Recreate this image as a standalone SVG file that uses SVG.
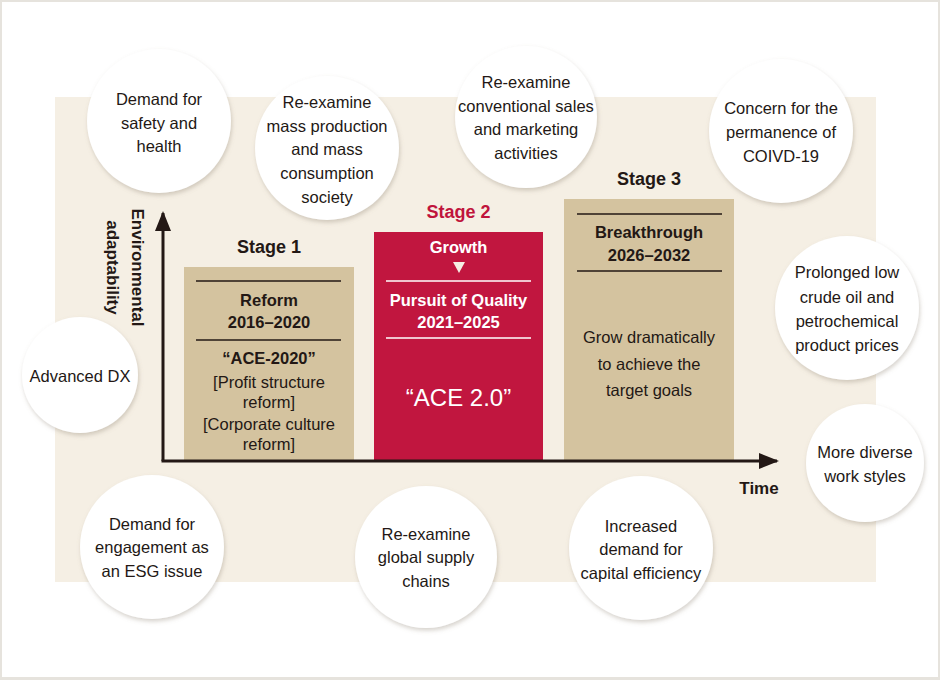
<svg xmlns="http://www.w3.org/2000/svg" width="940" height="680" viewBox="0 0 940 680">
<defs>
<filter id="sh" x="-20%" y="-20%" width="140%" height="140%">
<feDropShadow dx="1" dy="2.5" stdDeviation="2.2" flood-color="#8a7f70" flood-opacity="0.35"/>
</filter>
<marker id="ah" viewBox="0 0 20 16" refX="18" refY="8" markerWidth="20" markerHeight="16" markerUnits="userSpaceOnUse" orient="auto">
<path d="M0,0 L20,8 L0,16 Z" fill="#231815"/>
</marker>
</defs>
<style>
.c{fill:#ffffff;filter:url(#sh)}
.t{font-family:"Liberation Sans",Arial,sans-serif;font-size:16.5px;fill:#231815;text-anchor:middle}
.b{font-family:"Liberation Sans",Arial,sans-serif;font-size:16.5px;font-weight:bold;fill:#231815;text-anchor:middle}
.h{font-family:"Liberation Sans",Arial,sans-serif;font-size:18px;font-weight:bold;fill:#231815;text-anchor:middle}
.w{fill:#ffffff}
.dl{stroke:#231815;stroke-width:1.5}
.wl{stroke:#ffffff;stroke-width:1.5}
.ax{stroke:#231815;stroke-width:3;fill:none}
</style>
<rect x="0" y="0" width="940" height="680" fill="#e6e3dd"/>
<rect x="2" y="2" width="936" height="675" fill="#ffffff"/>
<rect x="55" y="97" width="821" height="485" fill="#f5efe4"/>

<g id="stage1">
<text class="h" x="269" y="253">Stage 1</text>
<rect x="184" y="267" width="170" height="194" fill="#d4c39f"/>
<line class="dl" x1="196" y1="281" x2="341" y2="281"/>
<text class="b" x="269" y="306">Reform</text>
<text class="b" x="269" y="328">2016–2020</text>
<line class="dl" x1="196" y1="340" x2="341" y2="340"/>
<text class="b" x="269" y="364">“ACE-2020”</text>
<text class="t" x="269" y="388">[Profit structure</text>
<text class="t" x="269" y="408">reform]</text>
<text class="t" x="269" y="430">[Corporate culture</text>
<text class="t" x="269" y="450">reform]</text>
</g>

<g id="stage2">
<text class="h" x="458.5" y="218" fill="#c0143c" style="fill:#c0143c">Stage 2</text>
<rect x="374" y="232" width="169" height="229" fill="#c1163f"/>
<text class="b w" x="458.5" y="253" style="fill:#ffffff">Growth</text>
<path d="M453,262 L465,262 L459,273 Z" fill="#f5efe4"/>
<line class="wl" x1="386" y1="281" x2="531" y2="281"/>
<text class="b" x="458.5" y="306" style="fill:#ffffff">Pursuit of Quality</text>
<text class="b" x="458.5" y="328" style="fill:#ffffff">2021–2025</text>
<line class="wl" x1="386" y1="338" x2="531" y2="338"/>
<text class="t" x="458.5" y="406" style="fill:#ffffff;font-size:24px">“ACE 2.0”</text>
</g>

<g id="stage3">
<text class="h" x="649" y="185">Stage 3</text>
<rect x="564" y="199" width="170" height="262" fill="#d4c39f"/>
<line class="dl" x1="577" y1="214" x2="722" y2="214"/>
<text class="b" x="649" y="238">Breakthrough</text>
<text class="b" x="649" y="261">2026–2032</text>
<line class="dl" x1="577" y1="271" x2="722" y2="271"/>
<text class="t" x="649" y="343">Grow dramatically</text>
<text class="t" x="649" y="370">to achieve the</text>
<text class="t" x="649" y="396">target goals</text>
</g>

<g id="connectors">
<line class="ax" x1="163" y1="461" x2="163" y2="213" marker-end="url(#ah)"/>
<line class="ax" x1="161.5" y1="461" x2="777" y2="461" marker-end="url(#ah)"/>
<text class="b" x="759" y="494" style="font-size:17px">Time</text>
<text class="b" transform="translate(132,267.5) rotate(90)" x="0" y="0" style="font-size:17px">Environmental</text>
<text class="b" transform="translate(107,267.5) rotate(90)" x="0" y="0" style="font-size:17px">adaptability</text>
</g>

<g id="c-safety">
<circle class="c" cx="159" cy="121" r="72"/>
<text class="t" x="159" y="105">Demand for</text>
<text class="t" x="159" y="128.5">safety and</text>
<text class="t" x="159" y="152">health</text>
</g>

<g id="c-mass">
<circle class="c" cx="327" cy="148" r="72"/>
<text class="t" x="327" y="108">Re-examine</text>
<text class="t" x="327" y="131.5">mass production</text>
<text class="t" x="327" y="155">and mass</text>
<text class="t" x="327" y="179">consumption</text>
<text class="t" x="327" y="203">society</text>
</g>

<g id="c-sales">
<circle class="c" cx="526" cy="117" r="71"/>
<text class="t" x="526" y="88">Re-examine</text>
<text class="t" x="526" y="112">conventional sales</text>
<text class="t" x="526" y="135">and marketing</text>
<text class="t" x="526" y="159">activities</text>
</g>

<g id="c-covid">
<circle class="c" cx="781" cy="131" r="72"/>
<text class="t" x="781" y="114">Concern for the</text>
<text class="t" x="781" y="138">permanence of</text>
<text class="t" x="781" y="162">COIVD-19</text>
</g>

<g id="c-oil">
<circle class="c" cx="847" cy="308" r="72"/>
<text class="t" x="847" y="278">Prolonged low</text>
<text class="t" x="847" y="303">crude oil and</text>
<text class="t" x="847" y="327">petrochemical</text>
<text class="t" x="847" y="351">product prices</text>
</g>

<g id="c-work">
<circle class="c" cx="865" cy="463" r="59"/>
<text class="t" x="865" y="458">More diverse</text>
<text class="t" x="865" y="482">work styles</text>
</g>

<g id="c-dx">
<circle class="c" cx="80" cy="375" r="58"/>
<text class="t" x="80" y="382">Advanced DX</text>
</g>

<g id="c-esg">
<circle class="c" cx="152" cy="547" r="72"/>
<text class="t" x="152" y="530">Demand for</text>
<text class="t" x="152" y="553">engagement as</text>
<text class="t" x="152" y="577">an ESG issue</text>
</g>

<g id="c-supply">
<circle class="c" cx="426" cy="557" r="71"/>
<text class="t" x="426" y="540">Re-examine</text>
<text class="t" x="426" y="563">global supply</text>
<text class="t" x="426" y="587">chains</text>
</g>

<g id="c-capital">
<circle class="c" cx="641" cy="548" r="72"/>
<text class="t" x="641" y="532">Increased</text>
<text class="t" x="641" y="555">demand for</text>
<text class="t" x="641" y="579">capital efficiency</text>
</g>
</svg>
